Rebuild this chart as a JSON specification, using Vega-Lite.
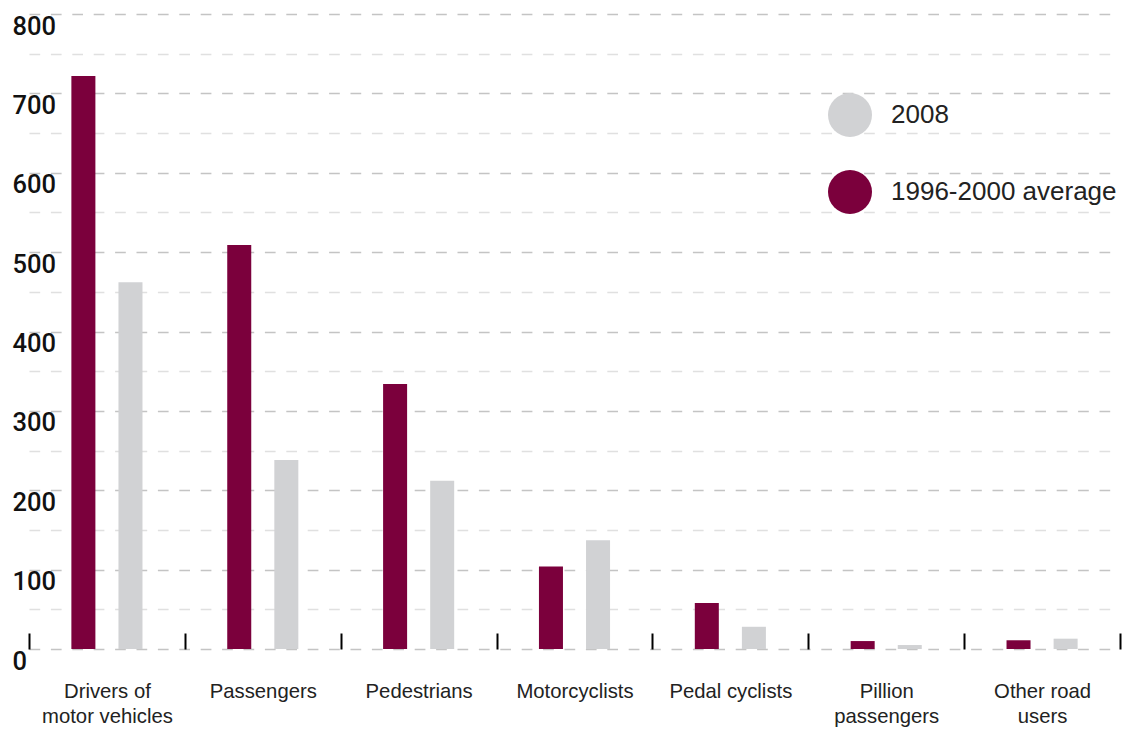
{
  "$schema": "https://vega.github.io/schema/vega-lite/v6.json",
  "width": 1091,
  "height": 635,
  "autosize": "none",
  "padding": {"left": 29, "top": 14, "right": 12, "bottom": 80},
  "background": "white",
  "config": {
    "view": {"stroke": null},
    "font": "Liberation Sans"
  },
  "data": {
    "values": [
      {"category": "Drivers of motor vehicles", "period": "1996-2000 average", "value": 722},
      {"category": "Drivers of motor vehicles", "period": "2008", "value": 462},
      {"category": "Passengers", "period": "1996-2000 average", "value": 509},
      {"category": "Passengers", "period": "2008", "value": 238},
      {"category": "Pedestrians", "period": "1996-2000 average", "value": 334},
      {"category": "Pedestrians", "period": "2008", "value": 212},
      {"category": "Motorcyclists", "period": "1996-2000 average", "value": 104},
      {"category": "Motorcyclists", "period": "2008", "value": 137},
      {"category": "Pedal cyclists", "period": "1996-2000 average", "value": 58},
      {"category": "Pedal cyclists", "period": "2008", "value": 28},
      {"category": "Pillion passengers", "period": "1996-2000 average", "value": 10},
      {"category": "Pillion passengers", "period": "2008", "value": 5},
      {"category": "Other road users", "period": "1996-2000 average", "value": 11},
      {"category": "Other road users", "period": "2008", "value": 13}
    ]
  },
  "mark": {"type": "bar"},
  "encoding": {
    "x": {
      "field": "category", "type": "nominal", "sort": null,
      "scale": {"paddingInner": 0, "paddingOuter": 0},
      "axis": {
        "title": null, "domain": false,
        "ticks": true, "tickBand": "extent", "tickSize": 16,
        "tickColor": "#000000", "tickWidth": 2, "offset": -16, "grid": false,
        "labelPadding": 32, "labelFontSize": 20.3, "labelColor": "#222222",
        "labelLineHeight": 25, "labelAngle": 0, "labelBaseline": "top",
        "labelFont": "Liberation Sans", "labelLimit": 300,
        "labelExpr": "datum.value == 'Drivers of motor vehicles' ? ['Drivers of', 'motor vehicles'] : datum.value == 'Pillion passengers' ? ['Pillion', 'passengers'] : datum.value == 'Other road users' ? ['Other road', 'users'] : datum.label"
      }
    },
    "xOffset": {
      "field": "period", "type": "nominal",
      "sort": ["1996-2000 average", "2008"],
      "scale": {"paddingInner": 0.49, "paddingOuter": 0.9}
    },
    "y": {
      "field": "value", "type": "quantitative",
      "scale": {"domain": [0, 800], "nice": false},
      "axis": {
        "title": null, "domain": false, "ticks": false, "tickSize": 0,
        "values": [0, 50, 100, 150, 200, 250, 300, 350, 400, 450, 500, 550, 600, 650, 700, 750, 800],
        "grid": true, "gridDash": [10.7, 10.7], "gridWidth": 1.5,
        "gridColor": {"condition": {"test": "datum.value % 100 === 0", "value": "#c4c4c4"}, "value": "#e0e0e0"},
        "labelExpr": "datum.value % 100 === 0 ? datum.label : ''",
        "labelAlign": "left", "labelBaseline": "top", "labelPadding": 17,
        "labelFontSize": 25.5, "labelColor": "#111111", "labelFont": "Roboto", "labelFontWeight": 500
      }
    },
    "color": {
      "field": "period", "type": "nominal",
      "scale": {"domain": ["2008", "1996-2000 average"], "range": ["#d1d2d4", "#7b003c"]},
      "legend": {
        "title": null, "orient": "none", "legendX": 799, "legendY": 79,
        "symbolType": "circle", "symbolSize": 1936, "symbolStrokeWidth": 0,
        "symbolOpacity": 1, "labelFontSize": 26, "labelColor": "#222222",
        "labelOffset": 19, "rowPadding": 33, "labelFont": "Liberation Sans",
        "labelLimit": 400, "padding": 0
      }
    }
  }
}
